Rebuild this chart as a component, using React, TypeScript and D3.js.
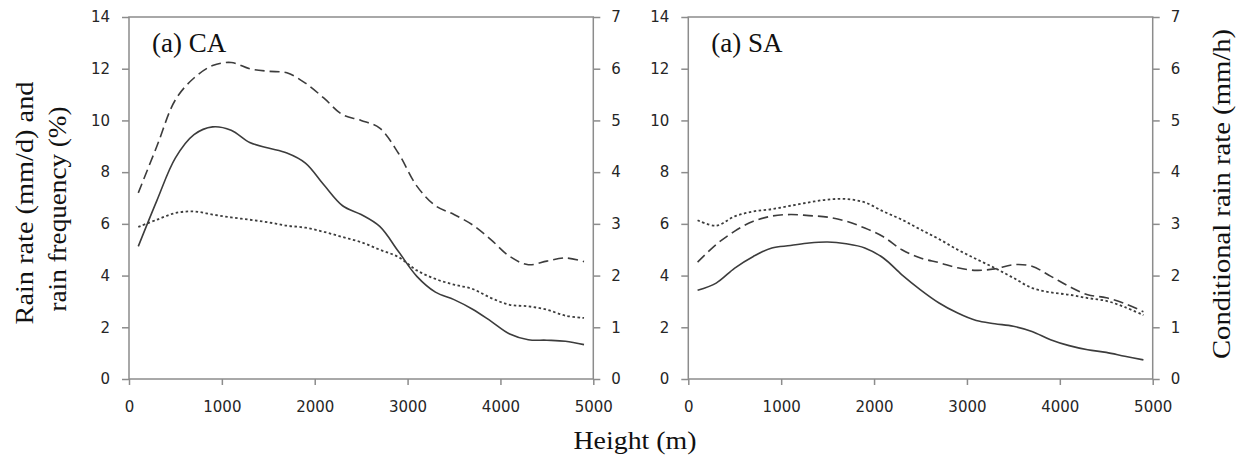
import React, { useEffect, useRef } from "react";
import * as d3 from "d3";

// Heights (m) at which the profiles are sampled
const heights = [100, 300, 500, 700, 900, 1100, 1300, 1500, 1700, 1900, 2100, 2300, 2500, 2700, 2900, 3100, 3300, 3500, 3700, 3900, 4100, 4300, 4500, 4700, 4900];

// CA panel
const caRainRate = [5.13, 6.9, 8.55, 9.45, 9.75, 9.62, 9.15, 8.93, 8.74, 8.35, 7.5, 6.7, 6.36, 5.9, 4.94, 3.97, 3.36, 3.07, 2.7, 2.23, 1.74, 1.52, 1.5, 1.46, 1.33];
const caRainFreq = [5.88, 6.16, 6.42, 6.48, 6.36, 6.25, 6.16, 6.06, 5.93, 5.85, 5.69, 5.49, 5.29, 5.0, 4.72, 4.2, 3.87, 3.65, 3.48, 3.13, 2.87, 2.81, 2.68, 2.45, 2.36];
const caCondRate = [3.6, 4.5, 5.4, 5.82, 6.06, 6.12, 6.0, 5.95, 5.92, 5.72, 5.43, 5.11, 5.0, 4.85, 4.37, 3.73, 3.35, 3.18, 2.98, 2.69, 2.37, 2.21, 2.28, 2.34, 2.27];

// SA panel
const saRainRate = [3.43, 3.71, 4.29, 4.74, 5.07, 5.16, 5.26, 5.3, 5.23, 5.07, 4.68, 4.03, 3.45, 2.94, 2.55, 2.26, 2.14, 2.04, 1.84, 1.52, 1.29, 1.13, 1.03, 0.88, 0.74];
const saRainFreq = [6.14, 5.93, 6.29, 6.48, 6.57, 6.7, 6.83, 6.94, 6.96, 6.83, 6.48, 6.16, 5.78, 5.41, 5.0, 4.64, 4.29, 3.91, 3.52, 3.35, 3.26, 3.13, 3.02, 2.78, 2.47];
const saCondRate = [2.26, 2.6, 2.86, 3.05, 3.15, 3.18, 3.16, 3.13, 3.05, 2.92, 2.75, 2.5, 2.34, 2.25, 2.15, 2.1, 2.13, 2.21, 2.18, 1.99, 1.79, 1.63, 1.57, 1.46, 1.3];

const xTicks = [0, 1000, 2000, 3000, 4000, 5000];
const leftTicks = [0, 2, 4, 6, 8, 10, 12, 14];
const rightTicks = [0, 1, 2, 3, 4, 5, 6, 7];
const panelLabels = ["(a) CA", "(a) SA"];

const panels = [
  { label: panelLabels[0], rate: caRainRate, freq: caRainFreq, cond: caCondRate, x0: 129, x1: 593.3 },
  { label: panelLabels[1], rate: saRainRate, freq: saRainFreq, cond: saCondRate, x0: 688.3, x1: 1152.7 },
];

const TOP = 17;
const BOTTOM = 379;
const AXIS = "#8c8c8c";
const LINE = "#3c3c3c";
const TICKFONT = "'DejaVu Sans', sans-serif";
const SERIF = "'Liberation Serif', 'Times New Roman', serif";

export default function App() {
  const ref = useRef<SVGSVGElement>(null);
  useEffect(() => {
    const svg = d3.select(ref.current);
    svg.selectAll("*").remove();
    svg.append("rect").attr("width", 1242).attr("height", 460).attr("fill", "#fff");

    panels.forEach((p) => {
      const x = d3.scaleLinear().domain([0, 5000]).range([p.x0, p.x1]);
      const yL = d3.scaleLinear().domain([0, 14]).range([BOTTOM, TOP]);
      const yR = d3.scaleLinear().domain([0, 7]).range([BOTTOM, TOP]);
      const g = svg.append("g");

      const styleAxis = (sel: any) => {
        sel.select(".domain").remove();
        sel.selectAll("line").attr("stroke", AXIS).attr("stroke-width", 1.5);
        sel.selectAll("text").attr("fill", "#262626").style("font-family", TICKFONT).style("font-size", "15px");
      };

      g.append("g")
        .attr("transform", `translate(0,${BOTTOM})`)
        .call(d3.axisBottom(x).tickValues(xTicks).tickFormat(d3.format("d")).tickSize(6).tickPadding(16))
        .call(styleAxis);
      g.append("g")
        .attr("transform", `translate(${p.x0},0)`)
        .call(d3.axisLeft(yL).tickValues(leftTicks).tickFormat(d3.format("d")).tickSize(7).tickPadding(12))
        .call(styleAxis);
      g.append("g")
        .attr("transform", `translate(${p.x1},0)`)
        .call(d3.axisRight(yR).tickValues(rightTicks).tickFormat(d3.format("d")).tickSize(7).tickPadding(11))
        .call(styleAxis);

      g.append("rect")
        .attr("x", p.x0)
        .attr("y", TOP)
        .attr("width", p.x1 - p.x0)
        .attr("height", BOTTOM - TOP)
        .attr("fill", "none")
        .attr("stroke", AXIS)
        .attr("stroke-width", 1.5);

      const lineL = d3
        .line<number>()
        .x((_, i) => x(heights[i]))
        .y((d) => yL(d))
        .curve(d3.curveCatmullRom.alpha(0.5));
      const lineR = d3
        .line<number>()
        .x((_, i) => x(heights[i]))
        .y((d) => yR(d))
        .curve(d3.curveCatmullRom.alpha(0.5));

      g.append("path").attr("d", lineL(p.freq)).attr("fill", "none").attr("stroke", LINE).attr("stroke-width", 1.8).attr("stroke-dasharray", "2.5,2.5");
      g.append("path").attr("d", lineR(p.cond)).attr("fill", "none").attr("stroke", LINE).attr("stroke-width", 1.6).attr("stroke-dasharray", "10,5");
      g.append("path").attr("d", lineL(p.rate)).attr("fill", "none").attr("stroke", LINE).attr("stroke-width", 1.6);

      g.append("text")
        .attr("x", p.x0 + 23)
        .attr("y", 52)
        .attr("fill", "#111")
        .style("font-family", SERIF)
        .style("font-size", "27px")
        .text(p.label);
    });

    const title = (tx: number, ty: number, rot: boolean, txt: string, len: number) =>
      svg.append("text")
        .attr("transform", `translate(${tx},${ty})${rot ? " rotate(-90)" : ""}`)
        .attr("text-anchor", "middle")
        .attr("fill", "#111")
        .attr("textLength", len)
        .attr("lengthAdjust", "spacingAndGlyphs")
        .style("font-family", SERIF)
        .style("font-size", "26px")
        .text(txt);

    title(33, 203, true, "Rain rate (mm/d) and", 243);
    title(66, 209, true, "rain frequency (%)", 205);
    title(1230, 194, true, "Conditional rain rate (mm/h)", 330);
    title(635, 449, false, "Height (m)", 123);
  }, []);

  return (
    <svg
      ref={ref}
      width={1242}
      height={460}
      style={{ position: "absolute", left: 0, top: 0, display: "block" }}
    />
  );
}
